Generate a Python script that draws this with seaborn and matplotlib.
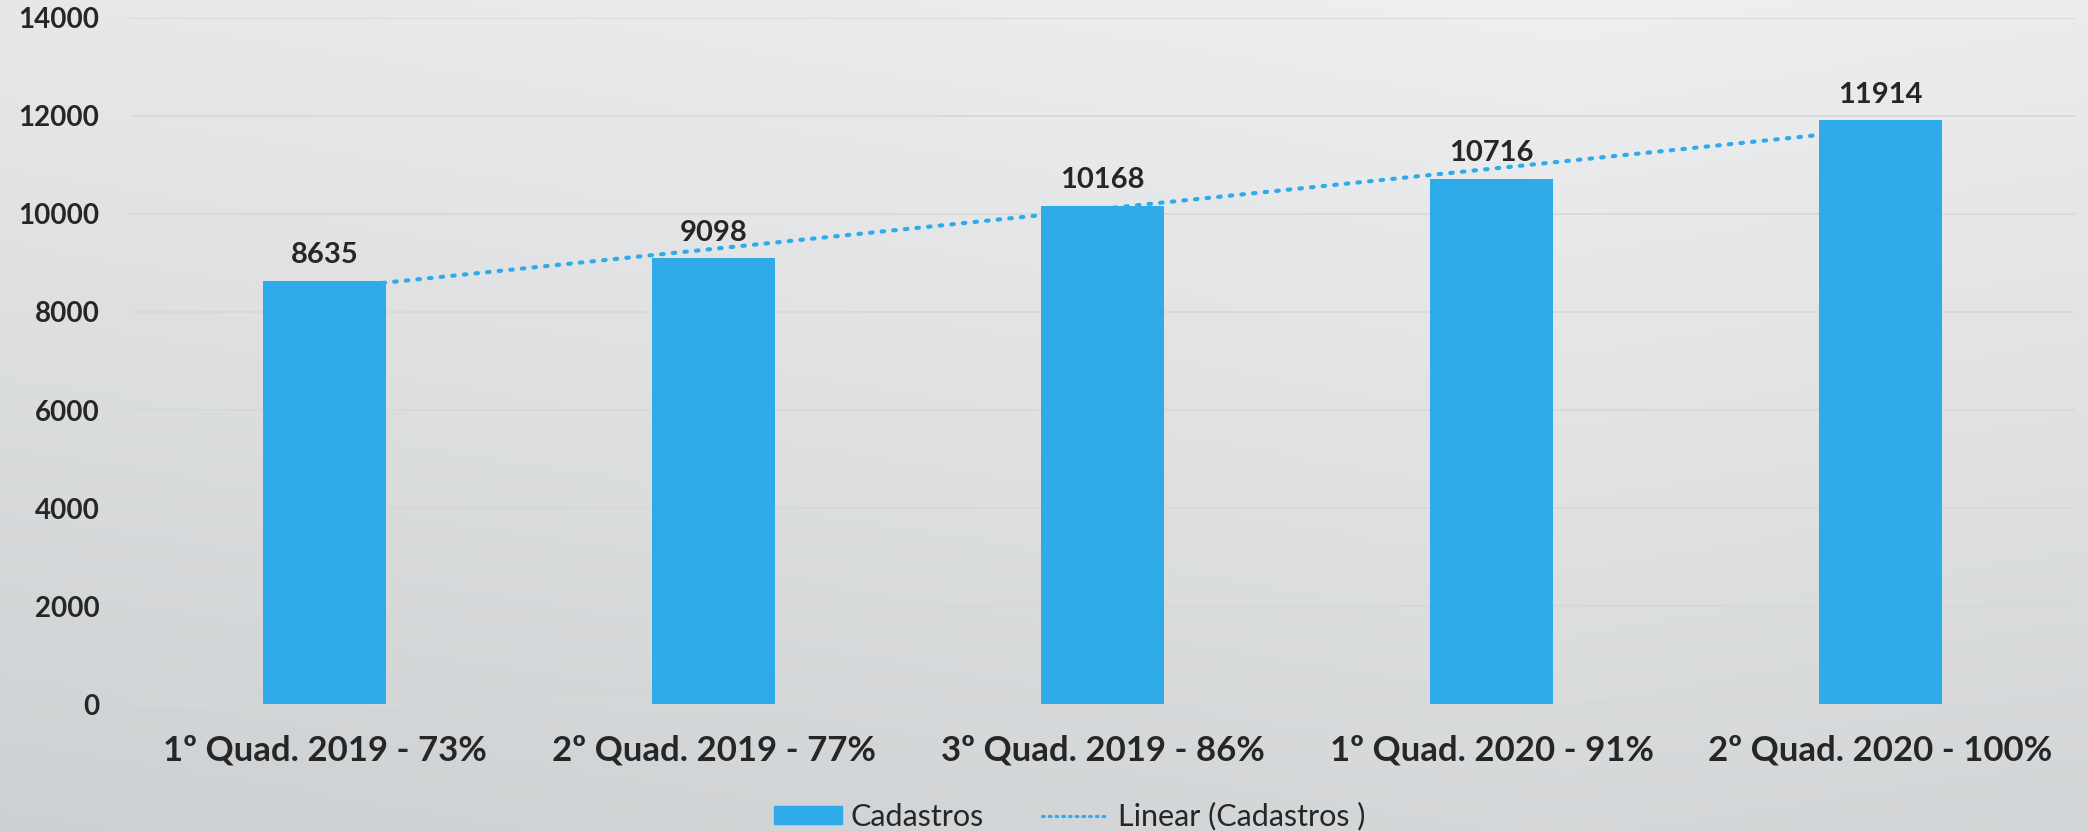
import numpy as np
import pandas as pd
import seaborn as sns
import matplotlib.pyplot as plt
from matplotlib.lines import Line2D
from matplotlib.patches import Patch

periodos = ['1º Quad. 2019 - 73%', '2º Quad. 2019 - 77%', '3º Quad. 2019 - 86%',
            '1º Quad. 2020 - 91%', '2º Quad. 2020 - 100%']
cadastros = [8635, 9098, 10168, 10716, 11914]
y_ticks = [0, 2000, 4000, 6000, 8000, 10000, 12000, 14000]

azul = '#30abe9'

sns.set_theme(style='white')
plt.rcParams['font.family'] = ['Lato', 'DejaVu Sans']

df = pd.DataFrame({'periodo': periodos, 'cadastros': cadastros})

fig = plt.figure(figsize=(20.88, 8.32), dpi=100)

# fundo em degradê (claro em cima, mais escuro embaixo)
bg = fig.add_axes([0, 0, 1, 1], zorder=-10)
yy, xx = np.mgrid[0:1:200j, 0:1:200j]
grad = 0.6 * yy + 0.25 * np.abs(xx - 0.75)
bg.imshow(grad, cmap=sns.blend_palette(['#eeeff0', '#cdd0d2'], as_cmap=True),
          aspect='auto', extent=[0, 1, 0, 1], vmin=0, vmax=0.8)
bg.axis('off')

ax = fig.add_axes([0.0623, 0.1538, 0.9315, 0.8246])
ax.patch.set_alpha(0)

sns.barplot(data=df, x='periodo', y='cadastros', color=azul, saturation=1,
            width=0.316, linewidth=0, ax=ax, zorder=3)

# linha de tendência linear (como no Excel)
idx = np.arange(len(cadastros))
coef = np.polyfit(idx, cadastros, 1)
ax.plot(idx, np.polyval(coef, idx), color=azul, linestyle=(0, (0.6, 2.2)),
        linewidth=3, dash_capstyle='round', zorder=2)

ax.bar_label(ax.containers[0], fontsize=21, fontweight='bold', padding=9)

ax.set_ylim(0, 14000)
ax.set_xlim(-0.5, 4.5)
ax.set_yticks(y_ticks)
ax.yaxis.grid(True, color='#d6d8da', linewidth=1.2, zorder=0)
ax.set_axisbelow(True)
for s in ['top', 'right', 'left']:
    ax.spines[s].set_visible(False)
ax.spines['bottom'].set_color('#d6d8da')
ax.spines['bottom'].set_linewidth(1.5)
ax.tick_params(axis='y', length=0, pad=22, labelsize=20)
ax.tick_params(axis='x', length=0, pad=22, labelsize=25)
for lbl in ax.get_yticklabels() + ax.get_xticklabels():
    lbl.set_fontweight('bold')
ax.set_xlabel('')
ax.set_ylabel('')

handles = [Patch(color=azul, label='Cadastros'),
           Line2D([0], [0], color=azul, linestyle=(0, (0.6, 1.6)), linewidth=2.2,
                  dash_capstyle='round', label='Linear (Cadastros )')]
fig.legend(handles=handles, loc='center', bbox_to_anchor=(0.5125, 0.019),
           ncol=2, frameon=False, fontsize=22, handlelength=2.2,
           handleheight=0.52, columnspacing=1.9, handletextpad=0.3,
           borderpad=0)

fig.savefig('out.png', dpi=100)
